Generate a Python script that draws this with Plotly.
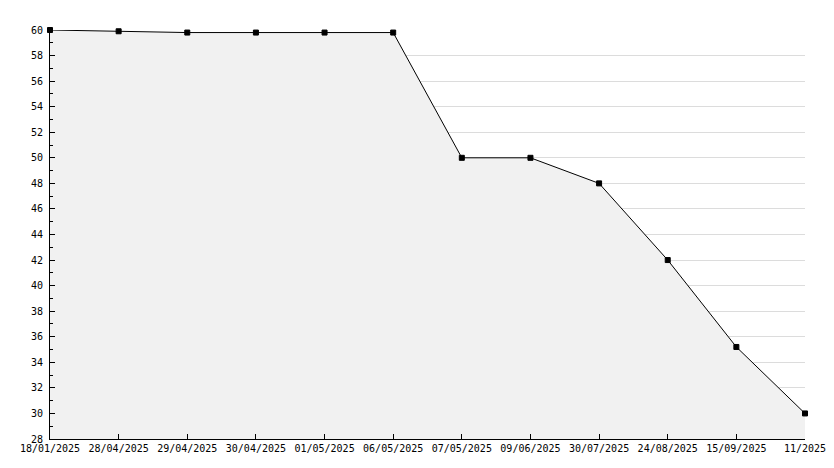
import plotly.graph_objects as go

dates = ["18/01/2025", "28/04/2025", "29/04/2025", "30/04/2025", "01/05/2025",
         "06/05/2025", "07/05/2025", "09/06/2025", "30/07/2025", "24/08/2025",
         "15/09/2025", "11/2025"]
values = [60, 59.9, 59.8, 59.8, 59.8, 59.8, 50, 50, 48, 42, 35.2, 30]
y_ticks = list(range(28, 61, 2))
y_min, y_max = 28, 60

idx = list(range(len(dates)))

fig = go.Figure()
# closing vertical edge of the filled area at the last point
fig.add_trace(go.Scatter(
    x=[idx[-1], idx[-1]], y=[y_min, values[-1]], mode="lines",
    line=dict(color="black", width=1), hoverinfo="skip", showlegend=False,
))
fig.add_trace(go.Scatter(
    x=idx, y=values, mode="lines+markers",
    fill="tozeroy", fillcolor="#f1f1f1",
    line=dict(color="black", width=1),
    marker=dict(symbol="square", size=5, color="black",
                line=dict(color="black", width=1)),
    cliponaxis=False,
    hoverinfo="skip", showlegend=False,
))

font = dict(family="DejaVu Sans Mono", size=10, color="black")
fig.update_layout(
    width=834, height=468,
    margin=dict(l=50, r=29, t=30, b=29, autoexpand=False),
    paper_bgcolor="white", plot_bgcolor="white",
    font=font,
    xaxis=dict(
        tickmode="array", tickvals=idx, ticktext=dates,
        range=[0, len(dates) - 1],
        showgrid=False, zeroline=False,
        showline=True, linecolor="black", linewidth=1,
        ticks="inside", ticklen=5, tickcolor="black",
        tickfont=font,
    ),
    yaxis=dict(
        range=[y_min, y_max], tickmode="array", tickvals=y_ticks,
        showgrid=True, gridcolor="#dcdcdc", gridwidth=1,
        zeroline=False,
        showline=True, linecolor="black", linewidth=1,
        ticks="inside", ticklen=5, tickcolor="black",
        tickfont=font, ticklabelstandoff=4,
        minor=dict(dtick=1, ticks="inside", ticklen=3, tickcolor="black", showgrid=False),
    ),
)

fig.write_html("out.html", config={"displayModeBar": False},
               post_script="document.body.style.margin='0';")
